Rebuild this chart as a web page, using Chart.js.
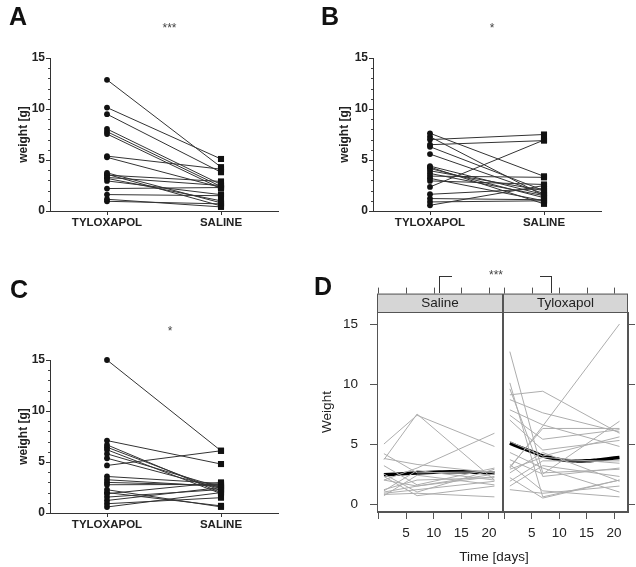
<!DOCTYPE html>
<html><head><meta charset="utf-8">
<script src="https://cdn.jsdelivr.net/npm/chart.js@4.4.1/dist/chart.umd.min.js"></script>
<style>
html,body{margin:0;padding:0;background:#fff;}
#wrap{position:relative;width:636px;height:567px;overflow:hidden;background:#fff;font-family:"Liberation Sans",Arial,sans-serif;}
canvas{position:absolute;}
.t{position:absolute;white-space:nowrap;line-height:1;color:#111;}
.lab{font-weight:bold;font-size:25px;}
.sig{font-size:12px;color:#444;transform:translateX(-50%);}
.br{position:absolute;border-color:#333;border-style:solid;border-width:0;}
</style></head><body>
<div id="wrap">
<canvas id="cA" width="318" height="267" style="left:0;top:0"></canvas>
<canvas id="cB" width="318" height="267" style="left:318px;top:0"></canvas>
<canvas id="cC" width="318" height="300" style="left:0;top:267px"></canvas>
<canvas id="cDs" width="190" height="300" style="left:318px;top:267px"></canvas>
<canvas id="cDt" width="139" height="300" style="left:497px;top:267px"></canvas>
<div class="t lab" style="left:9px;top:4px">A</div>
<div class="t lab" style="left:321px;top:4px">B</div>
<div class="t lab" style="left:10px;top:277px">C</div>
<div class="t lab" style="left:314px;top:274px">D</div>
<div class="t sig" style="left:169.5px;top:22px">***</div>
<div class="t sig" style="left:492px;top:22px">*</div>
<div class="t sig" style="left:170px;top:325px">*</div>
<div class="t sig" style="left:496px;top:269px">***</div>
<div class="br" style="left:439px;top:276px;width:12px;height:16px;border-top-width:1px;border-left-width:1px"></div>
<div class="br" style="left:540px;top:276px;width:11px;height:16px;border-top-width:1px;border-right-width:1px"></div>
<div class="t" style="left:494px;top:550px;font-size:13.5px;color:#222;transform:translateX(-50%)">Time [days]</div>
</div>
<script>
// ---------- data ----------
const groups = ['TYLOXAPOL', 'SALINE'];
const yTicksABC = [0, 5, 10, 15];

// Panel A (paired: tyloxapol[i] -> saline[i])
const tyloA = [12.86, 10.14, 9.49, 8.04, 7.78, 7.55, 5.38, 5.26, 3.74, 3.51, 3.29, 3.6, 2.95, 2.2, 1.61, 1.15, 0.95, 3.2];
const salA  = [4.3, 5.1, 3.8, 2.6, 2.4, 2.2, 4.1, 2.3, 0.8, 2.9, 2.5, 0.5, 1.6, 2.3, 1.5, 0.4, 0.7, 1.0];

// Panel B
const tyloB = [7.0, 6.5, 7.62, 7.28, 6.3, 5.58, 2.36, 4.4, 4.17, 3.94, 3.68, 3.42, 2.95, 1.64, 1.22, 0.89, 0.56, 3.2, 4.3];
const salB  = [7.5, 6.9, 3.4, 1.5, 2.0, 1.7, 6.96, 1.6, 1.3, 2.0, 1.5, 3.3, 2.6, 2.2, 1.1, 1.0, 2.5, 1.0, 0.7];

// Panel C
const tyloC = [15.0, 7.1, 4.66, 6.68, 6.45, 6.2, 5.8, 5.37, 3.58, 3.26, 2.77, 2.28, 1.89, 1.56, 1.23, 0.91, 0.59, 3.0, 2.0];
const salC  = [6.1, 4.8, 6.1, 2.0, 2.2, 1.9, 2.5, 2.4, 2.9, 2.6, 2.8, 0.6, 3.0, 2.3, 2.5, 1.5, 2.0, 2.7, 0.7];

// Panel D (per-animal weights at each day)
const days = [1, 7, 21];
const facetNames = ['Saline', 'Tyloxapol'];
const dTicks = [0, 5, 10, 15, 20];
const salD1  = [5.0, 3.7, 2.0, 3.8, 2.5, 2.0, 1.2, 1.0, 0.9, 0.8, 0.7, 1.1, 4.2, 2.3, 3.2];
const salD7  = [7.4, 7.5, 3.0, 3.3, 1.0, 1.5, 2.0, 1.5, 1.2, 0.9, 2.4, 2.8, 2.6, 0.7, 1.6];
const salD21 = [4.8, 2.0, 5.9, 2.6, 2.9, 2.5, 2.2, 2.3, 1.9, 0.6, 1.6, 2.0, 2.7, 1.5, 3.0];
const tyD1  = [12.7, 10.1, 9.6, 9.1, 8.7, 7.85, 7.4, 7.0, 3.0, 3.1, 3.7, 2.9, 2.6, 1.9, 1.5, 1.2, 3.3, 4.3, 2.2, 5.2];
const tyD7  = [2.6, 0.6, 2.3, 9.4, 7.6, 6.6, 5.4, 4.5, 6.5, 6.3, 2.5, 3.9, 4.3, 3.6, 3.2, 0.9, 1.1, 3.0, 0.5, 4.0];
const tyD21 = [2.9, 2.0, 3.0, 5.9, 6.0, 4.8, 6.2, 5.3, 15.0, 6.3, 6.9, 3.4, 1.9, 3.6, 2.3, 1.5, 0.6, 1.0, 2.0, 5.6];
const smoothDays = [1, 3, 5, 7, 9, 11, 13, 15, 17, 19, 21];
const salSmooth = [2.44, 2.49, 2.54, 2.58, 2.63, 2.67, 2.70, 2.69, 2.66, 2.62, 2.58];
const tySmooth  = [5.07, 4.70, 4.37, 4.02, 3.80, 3.64, 3.60, 3.60, 3.68, 3.78, 3.88];

// ---------- charts ----------
const FONT = '"Liberation Sans", Arial, sans-serif';
Chart.defaults.font.family = FONT;
Chart.defaults.animation = false;

const minorTicks = {
  id: 'minorTicks',
  afterDraw(chart) {
    const y = chart.scales.y, ctx = chart.ctx, a = chart.chartArea;
    ctx.save(); ctx.strokeStyle = '#444'; ctx.lineWidth = 1;
    for (let v = y.min + 1; v < y.max; v++) {
      if (v % 5 === 0) continue;
      const p = Math.round(y.getPixelForValue(v)) + 0.5;
      ctx.beginPath(); ctx.moveTo(a.left - 2, p); ctx.lineTo(a.left, p); ctx.stroke();
    }
    ctx.restore();
  }
};

function pairChart(id, tylo, sal, o) {
  const datasets = tylo.map((t, i) => ({
    data: [t, sal[i]], borderColor: '#333', borderWidth: 1,
    pointStyle: ['circle', 'rect'], pointRadius: [2.9, 4.3],
    pointBackgroundColor: '#111', pointBorderColor: '#111', pointBorderWidth: 0,
    tension: 0, clip: false
  }));
  return new Chart(document.getElementById(id), {
    type: 'line',
    data: { labels: groups, datasets },
    options: {
      responsive: false, animation: false, events: [],
      layout: { padding: { top: o.top, right: o.right, bottom: 0, left: 0 } },
      plugins: { legend: { display: false }, tooltip: { enabled: false } },
      scales: {
        x: {
          type: 'category', offset: true,
          afterFit: s => { s.height = o.xh; },
          grid: { drawOnChartArea: false, offset: false, tickLength: 4, color: '#333' },
          border: { color: '#333', width: 1 },
          ticks: { padding: 1, color: '#222', font: { size: 11.5, weight: 'bold' }, maxRotation: 0, autoSkip: false }
        },
        y: {
          min: 0, max: 15,
          afterFit: s => { s.width = o.yw; },
          afterBuildTicks: s => { s.ticks = yTicksABC.map(v => ({ value: v })); },
          grid: { drawOnChartArea: false, tickLength: 4, color: '#333' },
          border: { color: '#333', width: 1 },
          ticks: { padding: 1, color: '#222', font: { size: 12, weight: 'bold' } },
          title: { display: true, text: 'weight [g]', color: '#222', font: { size: 12, weight: 'bold' }, padding: { top: o.tp, bottom: 0 } }
        }
      }
    },
    plugins: [minorTicks]
  });
}

pairChart('cA', tyloA, salA, { top: 58, right: 40, xh: 56, yw: 50, tp: 16 });
pairChart('cB', tyloB, salB, { top: 58, right: 35, xh: 56, yw: 55, tp: 19 });
pairChart('cC', tyloC, salC, { top: 93, right: 40, xh: 54, yw: 50, tp: 16 });

const STRIP_H = 18.4;
const facetDeco = {
  id: 'facetDeco',
  afterDraw(chart, args, opts) {
    const { ctx, chartArea: a } = chart;
    const x = chart.scales.x;
    ctx.save();
    ctx.fillStyle = '#d6d6d6';
    ctx.fillRect(a.left, a.top - STRIP_H, a.right - a.left, STRIP_H);
    ctx.strokeStyle = '#555'; ctx.lineWidth = 1;
    ctx.strokeRect(a.left + 0.5, a.top - STRIP_H + 0.5, a.right - a.left - 1, a.bottom - a.top + STRIP_H - 1);
    ctx.beginPath(); ctx.moveTo(a.left, Math.round(a.top) + 0.5); ctx.lineTo(a.right, Math.round(a.top) + 0.5); ctx.stroke();
    dTicks.forEach(v => {
      const p = Math.round(x.getPixelForValue(v)) + 0.5;
      ctx.beginPath(); ctx.moveTo(p, a.top - STRIP_H); ctx.lineTo(p, a.top - STRIP_H - 6); ctx.stroke();
    });
    ctx.fillStyle = '#222'; ctx.font = '13.5px ' + FONT;
    ctx.textAlign = 'center'; ctx.textBaseline = 'middle';
    ctx.fillText(opts.name, (a.left + a.right) / 2, a.top - STRIP_H / 2 + 0.5);
    ctx.restore();
  }
};

function facetChart(id, name, d1, d7, d21, smooth, side, pad, yw) {
  const cols = [d1, d7, d21];
  const datasets = d1.map((_, i) => ({
    data: days.map((d, k) => ({ x: d, y: cols[k][i] })),
    borderColor: '#adadad', borderWidth: 1, pointRadius: 0, tension: 0
  }));
  datasets.push({
    data: smoothDays.map((d, k) => ({ x: d, y: smooth[k] })),
    borderColor: '#000', borderWidth: 3.5, pointRadius: 0, tension: 0.4
  });
  return new Chart(document.getElementById(id), {
    type: 'line',
    data: { datasets },
    options: {
      responsive: false, animation: false, events: [],
      layout: { padding: pad },
      plugins: { legend: { display: false }, tooltip: { enabled: false }, facetDeco: { name } },
      scales: {
        x: {
          type: 'linear', min: -0.25, max: 22.55,
          afterFit: s => { s.height = 55; },
          afterBuildTicks: s => { s.ticks = dTicks.map(v => ({ value: v })); },
          grid: { drawOnChartArea: false, tickLength: 7, color: '#555' },
          border: { color: '#555', width: 1 },
          ticks: { padding: 6, color: '#222', font: { size: 13.5 }, maxRotation: 0, callback: v => v === 0 ? '' : v }
        },
        y: {
          type: 'linear', min: -0.66, max: 16.0, position: side,
          afterFit: s => { s.width = yw; },
          afterBuildTicks: s => { s.ticks = yTicksABC.map(v => ({ value: v })); },
          grid: { drawOnChartArea: false, tickLength: 7, color: '#555' },
          border: { color: '#555', width: 1 },
          ticks: { display: side === 'left', padding: 12, color: '#222', font: { size: 13.5 } },
          title: { display: side === 'left', text: 'Weight', color: '#222', font: { size: 13.5 }, padding: { top: 1, bottom: 0 } }
        }
      }
    },
    plugins: [facetDeco]
  });
}

facetChart('cDs', facetNames[0], salD1, salD7, salD21, salSmooth, 'left', { top: 45, right: 5, bottom: 0, left: 0 }, 59);
facetChart('cDt', facetNames[1], tyD1, tyD7, tyD21, tySmooth, 'right', { top: 45, right: 0, bottom: 0, left: 6 }, 8);
</script>
</body></html>
